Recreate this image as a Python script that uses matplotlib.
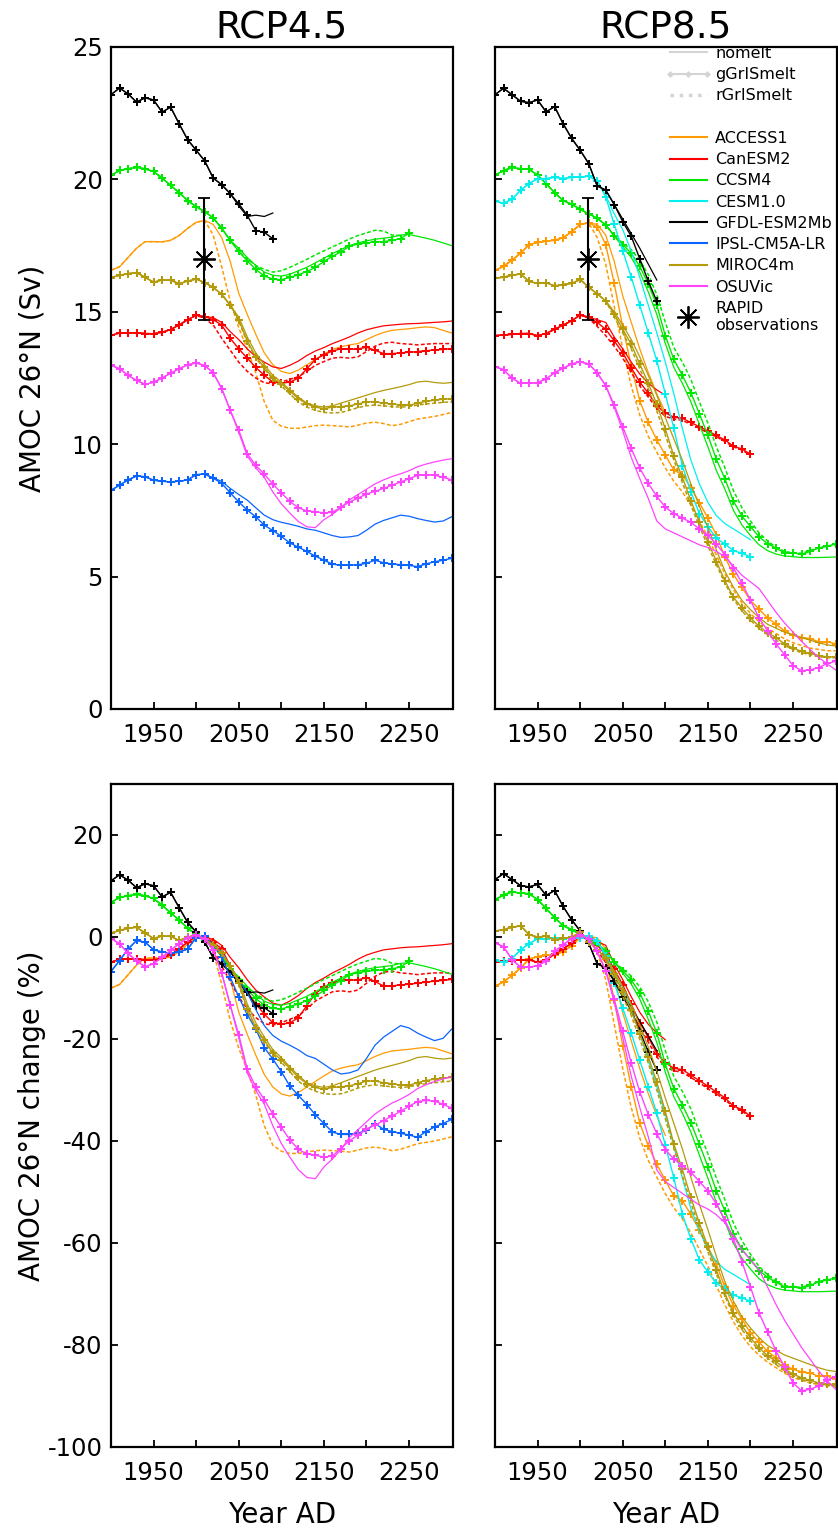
import numpy as np
import matplotlib
matplotlib.use("Agg")
from matplotlib import pyplot as plt
from matplotlib.lines import Line2D
from matplotlib.legend_handler import HandlerLine2D

plt.rcParams["axes.unicode_minus"] = False

nan = np.nan
years = np.arange(1900, 2301, 10)

# ---- RCP4.5, AMOC at 26N in Sv, one value every 10 years from 1900 ----
access1_45_nomelt = [16.57, 16.70, 17.05, 17.40, 17.65, 17.65, 17.64, 17.70, 17.88, 18.15,
                     18.38, 18.45, 18.30, 17.80, 16.90, 15.70, 14.90, 14.15, 13.45, 13.00,
                     12.75, 12.67, 12.80, 13.00, 13.20, 13.40, 13.58, 13.68, 13.75, 13.80,
                     13.95, 14.10, 14.22, 14.30, 14.33, 14.36, 14.40, 14.43, 14.40, 14.30, 14.20]
access1_45_rgris = access1_45_nomelt[:12] + [
    17.90, 16.70, 15.40, 14.40, 13.60, 12.70, 11.60, 10.90, 10.68, 10.60,
    10.60, 10.65, 10.70, 10.72, 10.70, 10.68, 10.65, 10.72, 10.80, 10.83,
    10.78, 10.70, 10.75, 10.85, 10.95, 11.00, 11.05, 11.12, 11.20]

canesm2_45_ggris = [14.11, 14.20, 14.21, 14.21, 14.18, 14.17, 14.23, 14.33, 14.50, 14.70,
                    14.87, 14.82, 14.70, 14.50, 14.00, 13.60, 13.25, 12.90, 12.60, 12.35,
                    12.31, 12.34, 12.50, 12.85, 13.20, 13.38, 13.52, 13.60, 13.58, 13.60,
                    13.66, 13.55, 13.42, 13.42, 13.45, 13.47, 13.50, 13.53, 13.56, 13.58, 13.61]
canesm2_45_nomelt = canesm2_45_ggris[:12] + [
    14.78, 14.60, 14.25, 13.95, 13.60, 13.30, 13.10, 12.92, 12.86, 12.98,
    13.14, 13.35, 13.52, 13.65, 13.80, 13.92, 14.05, 14.20, 14.32, 14.40,
    14.47, 14.50, 14.53, 14.55, 14.56, 14.58, 14.60, 14.62, 14.65]
canesm2_45_rgris = canesm2_45_ggris[:11] + [
    14.75, 14.50, 14.00, 13.55, 13.10, 12.75, 12.50, 12.32, 12.28, 12.35,
    12.45, 12.55, 12.75, 12.98, 13.12, 13.25, 13.28, 13.25, 13.30, 13.50,
    13.70, 13.82, 13.85, 13.80, 13.78, 13.75, 13.78, 13.80, 13.80, 13.80]

ccsm4_45_ggris = [20.15, 20.34, 20.40, 20.45, 20.40, 20.30, 20.05, 19.77, 19.50, 19.20,
                  18.97, 18.78, 18.55, 18.15, 17.70, 17.28, 16.92, 16.60, 16.35, 16.24,
                  16.21, 16.30, 16.40, 16.52, 16.68, 16.90, 17.10, 17.26, 17.48, 17.56,
                  17.60, 17.64, 17.65, 17.70, 17.76, 17.98]
ccsm4_45_nomelt = ccsm4_45_ggris[:15] + [
    17.40, 17.05, 16.75, 16.50, 16.38, 16.35, 16.42, 16.55, 16.68, 16.85,
    17.02, 17.20, 17.35, 17.50, 17.60, 17.68, 17.74, 17.78, 17.82, 17.90,
    17.92, 17.85, 17.78, 17.70, 17.60, 17.50]
ccsm4_45_rgris = ccsm4_45_ggris[:16] + [
    17.00, 16.75, 16.60, 16.50, 16.55, 16.68, 16.83, 16.98, 17.15, 17.30,
    17.45, 17.60, 17.75, 17.88, 17.98, 18.08, 18.05, 17.90, 17.88]

gfdl_45_ggris = [23.20, 23.45, 23.23, 22.92, 23.08, 23.00, 22.54, 22.73, 22.10, 21.50,
                 21.10, 20.70, 20.05, 19.80, 19.46, 19.08, 18.64, 18.07, 18.00, 17.76]
gfdl_45_nomelt = gfdl_45_ggris[:15] + [19.00, 18.60, 18.65, 18.60, 18.73]

ipsl_45_ggris = [8.26, 8.45, 8.65, 8.80, 8.77, 8.64, 8.60, 8.58, 8.60, 8.65,
                 8.85, 8.87, 8.72, 8.52, 8.16, 7.82, 7.51, 7.26, 6.94, 6.74,
                 6.52, 6.27, 6.11, 5.95, 5.77, 5.62, 5.47, 5.43, 5.43, 5.45,
                 5.50, 5.62, 5.52, 5.48, 5.45, 5.42, 5.38, 5.48, 5.56, 5.62, 5.69]
ipsl_45_nomelt = ipsl_45_ggris[:13] + [
    8.60, 8.33, 8.10, 7.89, 7.60, 7.32, 7.15, 7.05, 6.98, 6.90,
    6.80, 6.75, 6.65, 6.55, 6.48, 6.50, 6.55, 6.75, 6.98, 7.12,
    7.22, 7.32, 7.28, 7.19, 7.12, 7.06, 7.10, 7.26]

miroc_45_ggris = [16.29, 16.38, 16.44, 16.48, 16.30, 16.12, 16.20, 16.19, 16.06, 16.16,
                  16.24, 16.10, 15.92, 15.66, 15.25, 14.70, 13.90, 13.30, 12.90, 12.50,
                  12.28, 12.00, 11.72, 11.52, 11.40, 11.34, 11.40, 11.42, 11.45, 11.52,
                  11.60, 11.60, 11.55, 11.52, 11.48, 11.47, 11.55, 11.62, 11.66, 11.70, 11.72]
miroc_45_nomelt = miroc_45_ggris[:15] + [
    14.80, 14.05, 13.45, 13.00, 12.60, 12.35, 12.05, 11.78, 11.55, 11.45,
    11.40, 11.45, 11.55, 11.65, 11.75, 11.85, 11.95, 12.03, 12.10, 12.17,
    12.25, 12.35, 12.38, 12.33, 12.30, 12.33]
miroc_45_rgris = miroc_45_ggris[:15] + [
    14.65, 13.85, 13.25, 12.85, 12.45, 12.20, 11.90, 11.60, 11.40, 11.28,
    11.20, 11.18, 11.20, 11.28, 11.38, 11.45, 11.48, 11.45, 11.42, 11.40,
    11.42, 11.48, 11.52, 11.55, 11.58, 11.60]

osuvic_45_ggris = [12.98, 12.85, 12.60, 12.41, 12.26, 12.34, 12.50, 12.68, 12.85, 13.00,
                   13.07, 12.97, 12.70, 12.10, 11.28, 10.53, 9.64, 9.20, 8.87, 8.50,
                   8.16, 7.84, 7.60, 7.48, 7.45, 7.40, 7.43, 7.62, 7.82, 7.96,
                   8.12, 8.22, 8.33, 8.45, 8.57, 8.70, 8.82, 8.85, 8.83, 8.75, 8.65]
osuvic_45_nomelt = osuvic_45_ggris[:15] + [
    10.45, 9.55, 9.10, 8.75, 8.20, 7.75, 7.40, 7.08, 6.88, 6.85,
    7.15, 7.35, 7.60, 7.90, 8.10, 8.30, 8.50, 8.65, 8.78, 8.88,
    9.00, 9.15, 9.25, 9.33, 9.40, 9.45]

# ---- RCP8.5 ----
access1_85_ggris = [16.56, 16.72, 16.95, 17.21, 17.54, 17.62, 17.67, 17.70, 17.80, 18.02,
                    18.30, 18.36, 18.20, 17.54, 16.07, 14.43, 12.95, 11.64, 10.82, 10.16,
                    9.59, 9.02, 8.85, 8.36, 7.79, 7.21, 6.56, 5.74, 5.08, 4.59,
                    4.10, 3.77, 3.44, 3.20, 2.95, 2.79, 2.70, 2.66, 2.54, 2.54, 2.46]
access1_85_nomelt = access1_85_ggris[:12] + [
    18.30, 17.90, 16.90, 15.60, 14.60, 13.60, 12.70, 11.90, 11.20]
access1_85_rgris = access1_85_ggris[:12] + [
    17.80, 16.80, 15.20, 13.60, 12.20, 11.10, 10.30, 9.70, 9.10, 8.60,
    8.20, 7.70, 7.10, 6.50, 5.80, 5.10, 4.50, 4.00, 3.60, 3.30,
    3.05, 2.85, 2.65, 2.50, 2.40, 2.30, 2.25, 2.20, 2.20]

canesm2_85_ggris = [14.10, 14.13, 14.15, 14.18, 14.18, 14.10, 14.18, 14.34, 14.50, 14.66,
                    14.88, 14.80, 14.60, 14.34, 13.90, 13.45, 12.88, 12.35, 11.92, 11.45,
                    11.18, 11.02, 10.98, 10.82, 10.66, 10.50, 10.33, 10.16, 9.92, 9.82, 9.62]
canesm2_85_nomelt = canesm2_85_ggris[:12] + [
    14.70, 14.60, 14.05, 13.60, 13.10, 12.65, 12.30, 12.05, 11.85]
canesm2_85_rgris = canesm2_85_ggris[:11] + [
    14.75, 14.45, 14.10, 13.70, 13.25, 12.70, 12.20, 11.78, 11.35, 11.05,
    10.95, 10.90, 10.75, 10.60, 10.42, 10.28, 10.10, 9.90, 9.78, 9.58]

ccsm4_85_ggris = [20.16, 20.33, 20.45, 20.40, 20.38, 20.16, 19.84, 19.50, 19.20, 19.06,
                  18.87, 18.70, 18.53, 18.28, 17.87, 17.54, 17.21, 16.72, 16.05, 15.25,
                  14.10, 13.20, 12.60, 11.95, 11.15, 10.33, 9.43, 8.69, 7.85, 7.28,
                  6.89, 6.50, 6.25, 6.07, 5.90, 5.90, 5.84, 5.95, 6.08, 6.15, 6.23]
ccsm4_85_nomelt = ccsm4_85_ggris[:15] + [
    17.45, 17.05, 16.50, 15.75, 14.90, 13.80, 12.90, 12.30, 11.60, 10.75,
    9.90, 9.00, 8.30, 7.50, 6.95, 6.55, 6.20, 5.98, 5.85, 5.78,
    5.75, 5.72, 5.72, 5.72, 5.73, 5.74]
ccsm4_85_rgris = ccsm4_85_ggris[:15] + [
    17.60, 17.35, 16.95, 16.40, 15.65, 14.60, 13.65, 13.10, 12.45, 11.60,
    10.80, 9.90, 9.10, 8.25, 7.60, 7.10, 6.65, 6.35, 6.10, 5.95,
    5.90, 5.88, 5.98, 6.10, 6.15, 6.20]

cesm1_85_ggris = [19.18, 19.10, 19.25, 19.59, 19.84, 20.03, 20.03, 20.08, 20.03, 20.08,
                  20.08, 20.12, 19.95, 19.34, 18.30, 17.30, 16.31, 15.25, 14.20, 13.15,
                  11.90, 10.60, 9.18, 8.20, 7.38, 6.89, 6.45, 6.23, 5.98, 5.88, 5.74]
cesm1_85_nomelt = cesm1_85_ggris[:13] + [
    19.40, 18.70, 18.10, 17.30, 16.30, 15.25, 14.20, 13.10, 11.90, 10.60,
    9.40, 8.50, 7.80, 7.30, 7.00, 6.80, 6.60, 6.39]

gfdl_85_ggris = [23.20, 23.44, 23.20, 22.95, 22.90, 23.00, 22.55, 22.75, 22.10, 21.55,
                 21.10, 20.60, 19.75, 19.60, 19.05, 18.40, 17.85, 17.00, 16.15, 15.40]
gfdl_85_nomelt = gfdl_85_ggris[:15] + [18.50, 17.95, 17.40, 16.80, 16.20]

miroc_85_ggris = [16.26, 16.31, 16.38, 16.43, 16.15, 16.07, 16.10, 15.98, 16.03, 16.07,
                  16.22, 15.93, 15.68, 15.41, 14.92, 14.34, 13.77, 13.03, 12.30, 11.50,
                  10.58, 9.55, 8.75, 7.87, 7.05, 6.31, 5.57, 4.84, 4.22, 3.82,
                  3.44, 3.13, 2.88, 2.70, 2.46, 2.30, 2.18, 2.10, 2.02, 1.97, 1.97]
miroc_85_nomelt = miroc_85_ggris[:14] + [
    15.00, 14.50, 13.95, 13.30, 12.60, 11.85, 11.00, 10.20, 9.40, 8.50,
    7.65, 6.85, 6.00, 5.20, 4.60, 4.10, 3.75, 3.45, 3.20, 3.05,
    2.90, 2.80, 2.70, 2.60, 2.50, 2.42, 2.38]
miroc_85_rgris = miroc_85_ggris[:14] + [
    14.80, 14.20, 13.60, 12.85, 12.10, 11.25, 10.35, 9.40, 8.55, 7.70,
    6.90, 6.15, 5.45, 4.75, 4.15, 3.70, 3.35, 3.05, 2.80, 2.60,
    2.40, 2.25, 2.12, 2.05, 1.98, 1.94, 1.93]

osuvic_85_ggris = [12.92, 12.82, 12.49, 12.30, 12.30, 12.33, 12.46, 12.70, 12.87, 13.03,
                   13.11, 13.03, 12.70, 12.21, 11.48, 10.66, 9.84, 9.10, 8.52, 8.03,
                   7.62, 7.38, 7.21, 7.05, 6.80, 6.56, 6.23, 5.82, 5.33, 4.75,
                   4.10, 3.44, 2.95, 2.46, 2.05, 1.64, 1.44, 1.48, 1.56, 1.72, 1.80]
osuvic_85_nomelt = osuvic_85_ggris[:14] + [
    11.40, 10.50, 9.50, 8.70, 7.95, 7.10, 6.80, 6.65, 6.50, 6.35,
    6.20, 6.10, 5.95, 5.75, 5.40, 5.05, 4.80, 4.55, 4.10, 3.65,
    3.25, 2.90, 2.55, 2.25, 1.95, 1.70, 1.48]

# RAPID array observation (year, mean, half range)
rapid_year = 2009
rapid_mean = 17.0
rapid_err = 2.3

model_names = ["ACCESS1", "CanESM2", "CCSM4", "CESM1.0", "GFDL-ESM2Mb",
               "IPSL-CM5A-LR", "MIROC4m", "OSUVic"]
model_colors = ["#ff9a00", "#ff0000", "#00e800", "#00f0f0", "#000000",
                "#0a64ff", "#b39b0b", "#ff44ff"]


def pad(values):
    if values is None:
        return None
    return np.array(list(values) + [nan] * (len(years) - len(values)), dtype=float)


# (nomelt, gGrISmelt, rGrISmelt) per model
runs_45 = {
    "ACCESS1": (access1_45_nomelt, None, access1_45_rgris),
    "CanESM2": (canesm2_45_nomelt, canesm2_45_ggris, canesm2_45_rgris),
    "CCSM4": (ccsm4_45_nomelt, ccsm4_45_ggris, ccsm4_45_rgris),
    "GFDL-ESM2Mb": (gfdl_45_nomelt, gfdl_45_ggris, None),
    "IPSL-CM5A-LR": (ipsl_45_nomelt, ipsl_45_ggris, None),
    "MIROC4m": (miroc_45_nomelt, miroc_45_ggris, miroc_45_rgris),
    "OSUVic": (osuvic_45_nomelt, osuvic_45_ggris, None),
}
runs_85 = {
    "ACCESS1": (access1_85_nomelt, access1_85_ggris, access1_85_rgris),
    "CanESM2": (canesm2_85_nomelt, canesm2_85_ggris, canesm2_85_rgris),
    "CCSM4": (ccsm4_85_nomelt, ccsm4_85_ggris, ccsm4_85_rgris),
    "CESM1.0": (cesm1_85_nomelt, cesm1_85_ggris, None),
    "GFDL-ESM2Mb": (gfdl_85_nomelt, gfdl_85_ggris, None),
    "MIROC4m": (miroc_85_nomelt, miroc_85_ggris, miroc_85_rgris),
    "OSUVic": (osuvic_85_nomelt, osuvic_85_ggris, None),
}

star = (8, 2, 0)


def draw(ax, runs, percent=False):
    for name, color in zip(model_names, model_colors):
        if name not in runs:
            continue
        nomelt, ggris, rgris = [pad(r) for r in runs[name]]
        # change relative to the 2000-2010 mean of the control run
        ref = np.nanmean(nomelt[10:12])
        conv = (lambda v: 100.0 * (v / ref - 1.0)) if percent else (lambda v: v)
        ax.plot(years, conv(nomelt), color=color, lw=0.9)
        if ggris is not None:
            ax.plot(years, conv(ggris), color=color, lw=1.0, marker="P", ms=5.5, mew=0)
        if rgris is not None:
            ax.plot(years, conv(rgris), color=color, lw=1.1, ls=(0, (2.5, 1.5)))
    if not percent:
        ax.errorbar([rapid_year], [rapid_mean], yerr=[rapid_err], color="k", lw=1.5,
                    capsize=4, capthick=1.5, marker=star, ms=16, mew=1.3)


def style(ax, top, left):
    ax.set_xlim(1900, 2301)
    ax.set_xticks(np.arange(1950, 2251, 50))
    ax.set_xticklabels(["1950", "", "2050", "", "2150", "", "2250"])
    if top:
        ax.set_ylim(0, 25)
        ax.set_yticks(np.arange(0, 26, 5))
    else:
        ax.set_ylim(-100, 30)
        ax.set_yticks(np.arange(-100, 21, 20))
    ax.tick_params(axis="both", direction="in", length=5, width=1.3, labelsize=17.5,
                   top=False, right=False, labelleft=left)
    ax.tick_params(axis="x", pad=10)
    ax.tick_params(axis="y", pad=6)
    for sp in ax.spines.values():
        sp.set_linewidth(1.6)


fig = plt.figure(figsize=(8.38, 15.33), dpi=100)
W, H = 838.0, 1533.0
ax_tl = fig.add_axes([111 / W, 1 - 709 / H, 341.5 / W, 662 / H])
ax_tr = fig.add_axes([495 / W, 1 - 709 / H, 341.5 / W, 662 / H])
ax_bl = fig.add_axes([111 / W, 1 - 1447 / H, 341.5 / W, 663 / H])
ax_br = fig.add_axes([495 / W, 1 - 1447 / H, 341.5 / W, 663 / H])

draw(ax_tl, runs_45)
draw(ax_tr, runs_85)
draw(ax_bl, runs_45, percent=True)
draw(ax_br, runs_85, percent=True)

style(ax_tl, True, True)
style(ax_tr, True, False)
style(ax_bl, False, True)
style(ax_br, False, False)

ax_tl.set_title("RCP4.5", fontsize=27, pad=6)
ax_tr.set_title("RCP8.5", fontsize=27, pad=6)
ax_tl.set_ylabel("AMOC 26°N (Sv)", fontsize=20)
ax_bl.set_ylabel("AMOC 26°N change (%)", fontsize=20)
ax_tl.yaxis.set_label_coords(-0.19, 0.5)
ax_bl.yaxis.set_label_coords(-0.19, 0.5)
for ax in (ax_bl, ax_br):
    ax.set_xlabel("Year AD", fontsize=20)
    ax.xaxis.set_label_coords(0.5, -0.082)

grey = "#d4d4d4"
handles = [
    Line2D([], [], color=grey, lw=1.5, label="nomelt"),
    Line2D([], [], color=grey, lw=1.5, marker="D", ms=3.5, mew=0, label="gGrISmelt"),
    Line2D([], [], color=grey, lw=2.5, ls=":", label="rGrISmelt"),
    Line2D([], [], color="none", label=" "),
]
handles += [Line2D([], [], color=c, lw=1.5, label=n) for n, c in zip(model_names, model_colors)]
rapid_handle = Line2D([], [], ls="none", color="k", marker=star, ms=16, mew=1.3,
                      label="RAPID\nobservations")
handles.append(rapid_handle)
fig.legend(handles=handles, loc="upper left", bbox_to_anchor=(665 / W, 1 - 46 / H),
           bbox_transform=fig.transFigure, frameon=False, fontsize=11.5, borderpad=0,
           borderaxespad=0, handlelength=2.9, handletextpad=0.25, labelspacing=0.39,
           numpoints=3, handler_map={rapid_handle: HandlerLine2D(numpoints=1)})

fig.savefig("out.png", dpi=100)
